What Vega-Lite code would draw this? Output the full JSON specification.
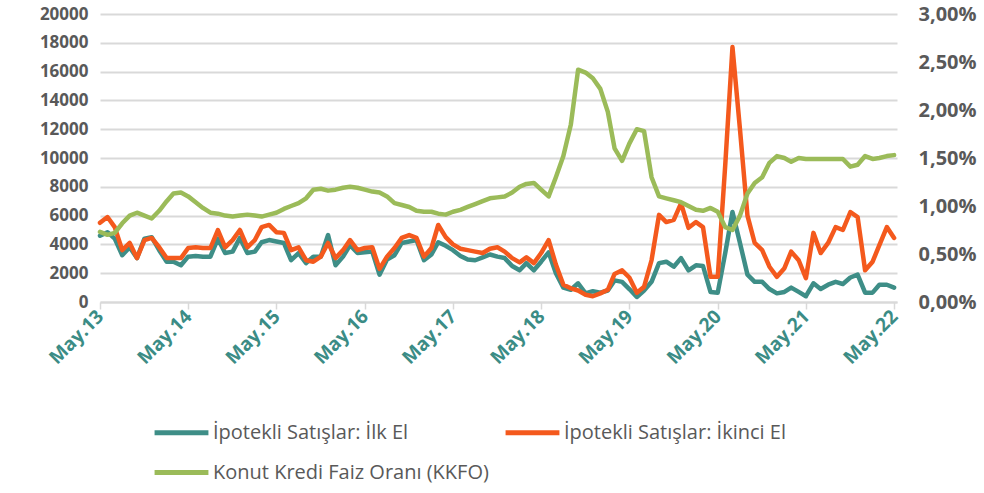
{
  "$schema": "https://vega.github.io/schema/vega-lite/v6.json",
  "width": 797,
  "height": 288,
  "autosize": {"type": "none"},
  "padding": {"left": 100, "top": 14, "right": 87, "bottom": 191},
  "background": "white",
  "config": {
    "view": {"stroke": null},
    "font": "Open Sans",
    "locale": {"number": {"decimal": ",", "thousands": ".", "grouping": [3], "currency": ["", " TL"]}}
  },
  "data": {"values": [
    {"d":"2013-05-01","ilk":4600,"ikinci":5500,"kkfo":0.0073},
    {"d":"2013-06-01","ilk":4850,"ikinci":5900,"kkfo":0.0070},
    {"d":"2013-07-01","ilk":4400,"ikinci":5200,"kkfo":0.0072},
    {"d":"2013-08-01","ilk":3250,"ikinci":3600,"kkfo":0.0082},
    {"d":"2013-09-01","ilk":3800,"ikinci":4100,"kkfo":0.0090},
    {"d":"2013-10-01","ilk":3050,"ikinci":3050,"kkfo":0.0093},
    {"d":"2013-11-01","ilk":4400,"ikinci":4300,"kkfo":0.0090},
    {"d":"2013-12-01","ilk":4500,"ikinci":4450,"kkfo":0.0087},
    {"d":"2014-01-01","ilk":3600,"ikinci":3800,"kkfo":0.0095},
    {"d":"2014-02-01","ilk":2800,"ikinci":3050,"kkfo":0.0105},
    {"d":"2014-03-01","ilk":2800,"ikinci":3050,"kkfo":0.0113},
    {"d":"2014-04-01","ilk":2550,"ikinci":3050,"kkfo":0.0114},
    {"d":"2014-05-01","ilk":3150,"ikinci":3750,"kkfo":0.0110},
    {"d":"2014-06-01","ilk":3200,"ikinci":3800,"kkfo":0.0104},
    {"d":"2014-07-01","ilk":3150,"ikinci":3750,"kkfo":0.0098},
    {"d":"2014-08-01","ilk":3150,"ikinci":3750,"kkfo":0.0093},
    {"d":"2014-09-01","ilk":4400,"ikinci":5000,"kkfo":0.0092},
    {"d":"2014-10-01","ilk":3400,"ikinci":3800,"kkfo":0.0090},
    {"d":"2014-11-01","ilk":3500,"ikinci":4300,"kkfo":0.0089},
    {"d":"2014-12-01","ilk":4450,"ikinci":5000,"kkfo":0.0090},
    {"d":"2015-01-01","ilk":3400,"ikinci":3800,"kkfo":0.0091},
    {"d":"2015-02-01","ilk":3500,"ikinci":4300,"kkfo":0.0090},
    {"d":"2015-03-01","ilk":4150,"ikinci":5200,"kkfo":0.0089},
    {"d":"2015-04-01","ilk":4300,"ikinci":5350,"kkfo":0.0091},
    {"d":"2015-05-01","ilk":4200,"ikinci":4850,"kkfo":0.0093},
    {"d":"2015-06-01","ilk":4100,"ikinci":4800,"kkfo":0.0097},
    {"d":"2015-07-01","ilk":2900,"ikinci":3600,"kkfo":0.0100},
    {"d":"2015-08-01","ilk":3400,"ikinci":3800,"kkfo":0.0103},
    {"d":"2015-09-01","ilk":2700,"ikinci":2900,"kkfo":0.0108},
    {"d":"2015-10-01","ilk":3150,"ikinci":2800,"kkfo":0.0117},
    {"d":"2015-11-01","ilk":3150,"ikinci":3150,"kkfo":0.0118},
    {"d":"2015-12-01","ilk":4650,"ikinci":4100,"kkfo":0.0116},
    {"d":"2016-01-01","ilk":2550,"ikinci":3050,"kkfo":0.0117},
    {"d":"2016-02-01","ilk":3150,"ikinci":3600,"kkfo":0.0119},
    {"d":"2016-03-01","ilk":3950,"ikinci":4300,"kkfo":0.0120},
    {"d":"2016-04-01","ilk":3400,"ikinci":3600,"kkfo":0.0119},
    {"d":"2016-05-01","ilk":3450,"ikinci":3750,"kkfo":0.0117},
    {"d":"2016-06-01","ilk":3500,"ikinci":3800,"kkfo":0.0115},
    {"d":"2016-07-01","ilk":1900,"ikinci":2300,"kkfo":0.0114},
    {"d":"2016-08-01","ilk":2950,"ikinci":3150,"kkfo":0.0110},
    {"d":"2016-09-01","ilk":3250,"ikinci":3750,"kkfo":0.0103},
    {"d":"2016-10-01","ilk":4100,"ikinci":4450,"kkfo":0.0101},
    {"d":"2016-11-01","ilk":4200,"ikinci":4650,"kkfo":0.0099},
    {"d":"2016-12-01","ilk":4300,"ikinci":4450,"kkfo":0.0095},
    {"d":"2017-01-01","ilk":2900,"ikinci":3150,"kkfo":0.0094},
    {"d":"2017-02-01","ilk":3300,"ikinci":3750,"kkfo":0.0094},
    {"d":"2017-03-01","ilk":4150,"ikinci":5350,"kkfo":0.0092},
    {"d":"2017-04-01","ilk":3900,"ikinci":4500,"kkfo":0.0091},
    {"d":"2017-05-01","ilk":3600,"ikinci":4000,"kkfo":0.0094},
    {"d":"2017-06-01","ilk":3200,"ikinci":3700,"kkfo":0.0096},
    {"d":"2017-07-01","ilk":2950,"ikinci":3600,"kkfo":0.0099},
    {"d":"2017-08-01","ilk":2900,"ikinci":3500,"kkfo":0.0102},
    {"d":"2017-09-01","ilk":3100,"ikinci":3400,"kkfo":0.0105},
    {"d":"2017-10-01","ilk":3300,"ikinci":3700,"kkfo":0.0108},
    {"d":"2017-11-01","ilk":3150,"ikinci":3800,"kkfo":0.0109},
    {"d":"2017-12-01","ilk":3050,"ikinci":3500,"kkfo":0.0110},
    {"d":"2018-01-01","ilk":2500,"ikinci":3050,"kkfo":0.0114},
    {"d":"2018-02-01","ilk":2200,"ikinci":2750,"kkfo":0.0120},
    {"d":"2018-03-01","ilk":2700,"ikinci":3100,"kkfo":0.0123},
    {"d":"2018-04-01","ilk":2200,"ikinci":2700,"kkfo":0.0124},
    {"d":"2018-05-01","ilk":2800,"ikinci":3400,"kkfo":0.0117},
    {"d":"2018-06-01","ilk":3450,"ikinci":4300,"kkfo":0.0110},
    {"d":"2018-07-01","ilk":2000,"ikinci":2600,"kkfo":0.0130},
    {"d":"2018-08-01","ilk":1000,"ikinci":1200,"kkfo":0.0152},
    {"d":"2018-09-01","ilk":850,"ikinci":950,"kkfo":0.0185},
    {"d":"2018-10-01","ilk":1300,"ikinci":800,"kkfo":0.0242},
    {"d":"2018-11-01","ilk":600,"ikinci":500,"kkfo":0.0239},
    {"d":"2018-12-01","ilk":750,"ikinci":400,"kkfo":0.0233},
    {"d":"2019-01-01","ilk":650,"ikinci":600,"kkfo":0.0222},
    {"d":"2019-02-01","ilk":800,"ikinci":850,"kkfo":0.0198},
    {"d":"2019-03-01","ilk":1500,"ikinci":1950,"kkfo":0.0160},
    {"d":"2019-04-01","ilk":1400,"ikinci":2200,"kkfo":0.0147},
    {"d":"2019-05-01","ilk":900,"ikinci":1700,"kkfo":0.0165},
    {"d":"2019-06-01","ilk":350,"ikinci":650,"kkfo":0.0180},
    {"d":"2019-07-01","ilk":800,"ikinci":1050,"kkfo":0.0178},
    {"d":"2019-08-01","ilk":1400,"ikinci":2900,"kkfo":0.0130},
    {"d":"2019-09-01","ilk":2700,"ikinci":6050,"kkfo":0.0110},
    {"d":"2019-10-01","ilk":2800,"ikinci":5550,"kkfo":0.0108},
    {"d":"2019-11-01","ilk":2450,"ikinci":5700,"kkfo":0.0106},
    {"d":"2019-12-01","ilk":3050,"ikinci":6850,"kkfo":0.0104},
    {"d":"2020-01-01","ilk":2200,"ikinci":5150,"kkfo":0.0100},
    {"d":"2020-02-01","ilk":2550,"ikinci":5550,"kkfo":0.0096},
    {"d":"2020-03-01","ilk":2500,"ikinci":5200,"kkfo":0.0095},
    {"d":"2020-04-01","ilk":700,"ikinci":1750,"kkfo":0.0098},
    {"d":"2020-05-01","ilk":650,"ikinci":1750,"kkfo":0.0094},
    {"d":"2020-06-01","ilk":3400,"ikinci":9500,"kkfo":0.0078},
    {"d":"2020-07-01","ilk":6250,"ikinci":17700,"kkfo":0.0075},
    {"d":"2020-08-01","ilk":4100,"ikinci":12000,"kkfo":0.0090},
    {"d":"2020-09-01","ilk":1900,"ikinci":6000,"kkfo":0.0113},
    {"d":"2020-10-01","ilk":1400,"ikinci":4100,"kkfo":0.0124},
    {"d":"2020-11-01","ilk":1400,"ikinci":3600,"kkfo":0.0130},
    {"d":"2020-12-01","ilk":900,"ikinci":2450,"kkfo":0.0145},
    {"d":"2021-01-01","ilk":600,"ikinci":1750,"kkfo":0.0152},
    {"d":"2021-02-01","ilk":700,"ikinci":2350,"kkfo":0.0150},
    {"d":"2021-03-01","ilk":1000,"ikinci":3500,"kkfo":0.0146},
    {"d":"2021-04-01","ilk":700,"ikinci":2900,"kkfo":0.0150},
    {"d":"2021-05-01","ilk":400,"ikinci":1650,"kkfo":0.0149},
    {"d":"2021-06-01","ilk":1300,"ikinci":4800,"kkfo":0.0149},
    {"d":"2021-07-01","ilk":900,"ikinci":3400,"kkfo":0.0149},
    {"d":"2021-08-01","ilk":1200,"ikinci":4100,"kkfo":0.0149},
    {"d":"2021-09-01","ilk":1400,"ikinci":5200,"kkfo":0.0149},
    {"d":"2021-10-01","ilk":1250,"ikinci":5000,"kkfo":0.0149},
    {"d":"2021-11-01","ilk":1700,"ikinci":6250,"kkfo":0.0141},
    {"d":"2021-12-01","ilk":1900,"ikinci":5900,"kkfo":0.0143},
    {"d":"2022-01-01","ilk":650,"ikinci":2200,"kkfo":0.0152},
    {"d":"2022-02-01","ilk":650,"ikinci":2800,"kkfo":0.0149},
    {"d":"2022-03-01","ilk":1200,"ikinci":3950,"kkfo":0.0150},
    {"d":"2022-04-01","ilk":1200,"ikinci":5200,"kkfo":0.0152},
    {"d":"2022-05-01","ilk":1000,"ikinci":4450,"kkfo":0.0153}
  ]},
  "encoding": {
    "x": {
      "field": "d", "type": "temporal", "title": null,
      "scale": {"type": "utc", "domain": [{"year": 2013, "month": 5, "date": 1, "utc": true}, {"year": 2022, "month": 5, "date": 13, "utc": true}]},
      "axis": {
        "values": [
          {"year": 2013, "month": 5, "date": 1, "utc": true},
          {"year": 2014, "month": 5, "date": 1, "utc": true},
          {"year": 2015, "month": 5, "date": 1, "utc": true},
          {"year": 2016, "month": 5, "date": 1, "utc": true},
          {"year": 2017, "month": 5, "date": 1, "utc": true},
          {"year": 2018, "month": 5, "date": 1, "utc": true},
          {"year": 2019, "month": 5, "date": 1, "utc": true},
          {"year": 2020, "month": 5, "date": 1, "utc": true},
          {"year": 2021, "month": 5, "date": 1, "utc": true},
          {"year": 2022, "month": 5, "date": 1, "utc": true}
        ],
        "labelExpr": "utcFormat(datum.value, '%b') + '.' + utcFormat(datum.value, '%y')",
        "labelAngle": -45, "labelAlign": "right", "labelBaseline": "middle",
        "labelFontSize": 19, "labelFontWeight": "bold", "labelColor": "#3b8c85",
        "labelPadding": 4, "labelOverlap": false, "labelFlush": false, "labelLimit": 300,
        "grid": false, "domainColor": "#d9d9d9", "domainWidth": 2,
        "tickColor": "#d9d9d9", "tickWidth": 1.5, "tickSize": 7
      }
    }
  },
  "layer": [
    {
      "transform": [{"fold": ["ilk", "ikinci"], "as": ["s", "v"]}],
      "mark": {"type": "line", "strokeWidth": 4.5, "strokeJoin": "round", "strokeCap": "round"},
      "encoding": {
        "y": {
          "field": "v", "type": "quantitative", "title": null,
          "scale": {"domain": [0, 20000], "nice": false},
          "axis": {
            "values": [0, 2000, 4000, 6000, 8000, 10000, 12000, 14000, 16000, 18000, 20000],
            "format": "d", "labelFontSize": 17, "labelFontWeight": "bold", "labelColor": "#595959",
            "domain": false, "ticks": false, "labelPadding": 12, "labelLimit": 300,
            "gridColor": "#d9d9d9", "gridWidth": 2
          }
        },
        "color": {
          "field": "s", "type": "nominal",
          "scale": {"domain": ["ilk", "ikinci", "kkfo"], "range": ["#3e8e87", "#f4591d", "#9bbb59"]},
          "legend": {
            "title": null, "orient": "none", "legendX": 52, "legendY": 389, "direction": "horizontal",
            "columns": 2, "symbolType": "stroke", "symbolSize": 2900, "symbolStrokeWidth": 5,
            "labelFontSize": 20, "labelColor": "#595959", "labelOffset": 2, "labelLimit": 500,
            "rowPadding": -6, "columnPadding": 6,
            "labelExpr": "datum.label == 'ilk' ? 'İpotekli Satışlar: İlk El' : datum.label == 'ikinci' ? 'İpotekli Satışlar: İkinci El' : 'Konut Kredi Faiz Oranı (KKFO)'"
          }
        }
      }
    },
    {
      "transform": [{"fold": ["kkfo"], "as": ["s", "v"]}],
      "mark": {"type": "line", "strokeWidth": 4.5, "strokeJoin": "round", "strokeCap": "round"},
      "encoding": {
        "y": {
          "field": "v", "type": "quantitative", "title": null,
          "scale": {"domain": [0, 0.03], "nice": false},
          "axis": {
            "orient": "right", "values": [0, 0.005, 0.01, 0.015, 0.02, 0.025, 0.03],
            "format": ".2%", "labelFontSize": 20, "labelFontWeight": "bold", "labelColor": "#595959",
            "domain": false, "ticks": false, "grid": false, "labelPadding": 21, "labelLimit": 300
          }
        },
        "color": {"field": "s", "type": "nominal"}
      }
    }
  ],
  "resolve": {"scale": {"y": "independent"}}
}
